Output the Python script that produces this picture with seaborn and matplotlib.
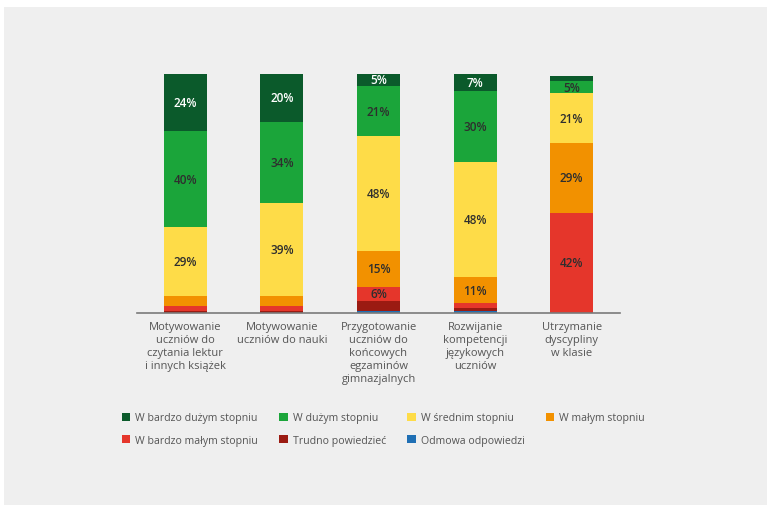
import matplotlib
matplotlib.use("Agg")
import matplotlib.pyplot as plt
import matplotlib.patches as mpatches
import seaborn as sns
import numpy as np
import pandas as pd

categories = [
    "Motywowanie\nuczniów do\nczytania lektur\ni innych książek",
    "Motywowanie\nuczniów do nauki",
    "Przygotowanie\nuczniów do\nkońcowych\negzaminów\ngimnazjalnych",
    "Rozwijanie\nkompetencji\njęzykowych\nuczniów",
    "Utrzymanie\ndyscypliny\nw klasie",
]

# series, bottom to top
odmowa = [0, 0, 1, 1, 0]
trudno = [1, 1, 4, 1, 0]
bardzo_malym = [2, 2, 6, 2, 42]
malym = [4, 4, 15, 11, 29]
srednim = [29, 39, 48, 48, 21]
duzym = [40, 34, 21, 30, 5]
bardzo_duzym = [24, 20, 5, 7, 2]

series_names = ["Odmowa odpowiedzi", "Trudno powiedzieć", "W bardzo małym stopniu",
                "W małym stopniu", "W średnim stopniu", "W dużym stopniu",
                "W bardzo dużym stopniu"]
series_values = [odmowa, trudno, bardzo_malym, malym, srednim, duzym, bardzo_duzym]
colors = ["#1f6fb4", "#9b1b12", "#e5362b", "#f29100", "#fedc48", "#1ba53a", "#0b5a2b"]
label_colors = ["#2e2e2e"] * 6 + ["#ffffff"]

sns.set_theme(style="white")
plt.rcParams["font.family"] = ["Open Sans", "DejaVu Sans"]

fig = plt.figure(figsize=(7.71, 5.10), dpi=100)
fig.patch.set_facecolor("white")
fig.add_artist(mpatches.Rectangle((4 / 771, 4 / 510), 763 / 771, 498 / 510,
                                  transform=fig.transFigure, facecolor="#efefef",
                                  edgecolor="none", zorder=0))

ax = fig.add_axes([137 / 771, (510 - 314) / 510, (620 - 137) / 771, (314 - 75) / 510])
ax.set_facecolor("none")

df = pd.DataFrame({name: vals for name, vals in zip(series_names, series_values)})
df["cat"] = categories
cum = df[series_names].cumsum(axis=1)

# draw from top layer down (overlay trick)
for i in range(len(series_names) - 1, -1, -1):
    name = series_names[i]
    sns.barplot(x=df["cat"], y=cum[name], color=colors[i], width=0.445,
                saturation=1, ax=ax, edgecolor="none", linewidth=0)

# labels
for i, name in enumerate(series_names):
    for j in range(len(categories)):
        v = df[name].iloc[j]
        if v >= 5:
            ymid = cum[name].iloc[j] - v / 2
            ax.text(j, ymid, f"{v}%", ha="center", va="center", fontsize=8.5,
                    fontweight="semibold", color=label_colors[i])

ax.set_xlim(-0.5, 4.5)
ax.set_ylim(0, 100)
ax.set_yticks([])
ax.set_xlabel("")
ax.set_ylabel("")
for s in ["top", "right", "left"]:
    ax.spines[s].set_visible(False)
ax.spines["bottom"].set_color("#7a7a7a")
ax.spines["bottom"].set_linewidth(1.2)
ax.tick_params(axis="x", length=0, pad=6)
ax.set_xticks(range(len(categories)))
ax.set_xticklabels(categories, fontsize=8, color="#555555", linespacing=1.25)

# legend
order = [6, 2, 5, 1, 4, 0, 3]
handles = [mpatches.Patch(facecolor=colors[k], edgecolor="none") for k in order]
labels = [series_names[k] for k in order]
fig.legend(handles, labels, ncol=4, loc="upper left",
           bbox_to_anchor=(112 / 771, (510 - 404) / 510), frameon=False,
           fontsize=7.6, labelcolor="#555555", handlelength=0.8, handleheight=0.8,
           handletextpad=0.5, columnspacing=2.0, labelspacing=1.05)

fig.savefig("out.png", dpi=100, facecolor=fig.get_facecolor())
